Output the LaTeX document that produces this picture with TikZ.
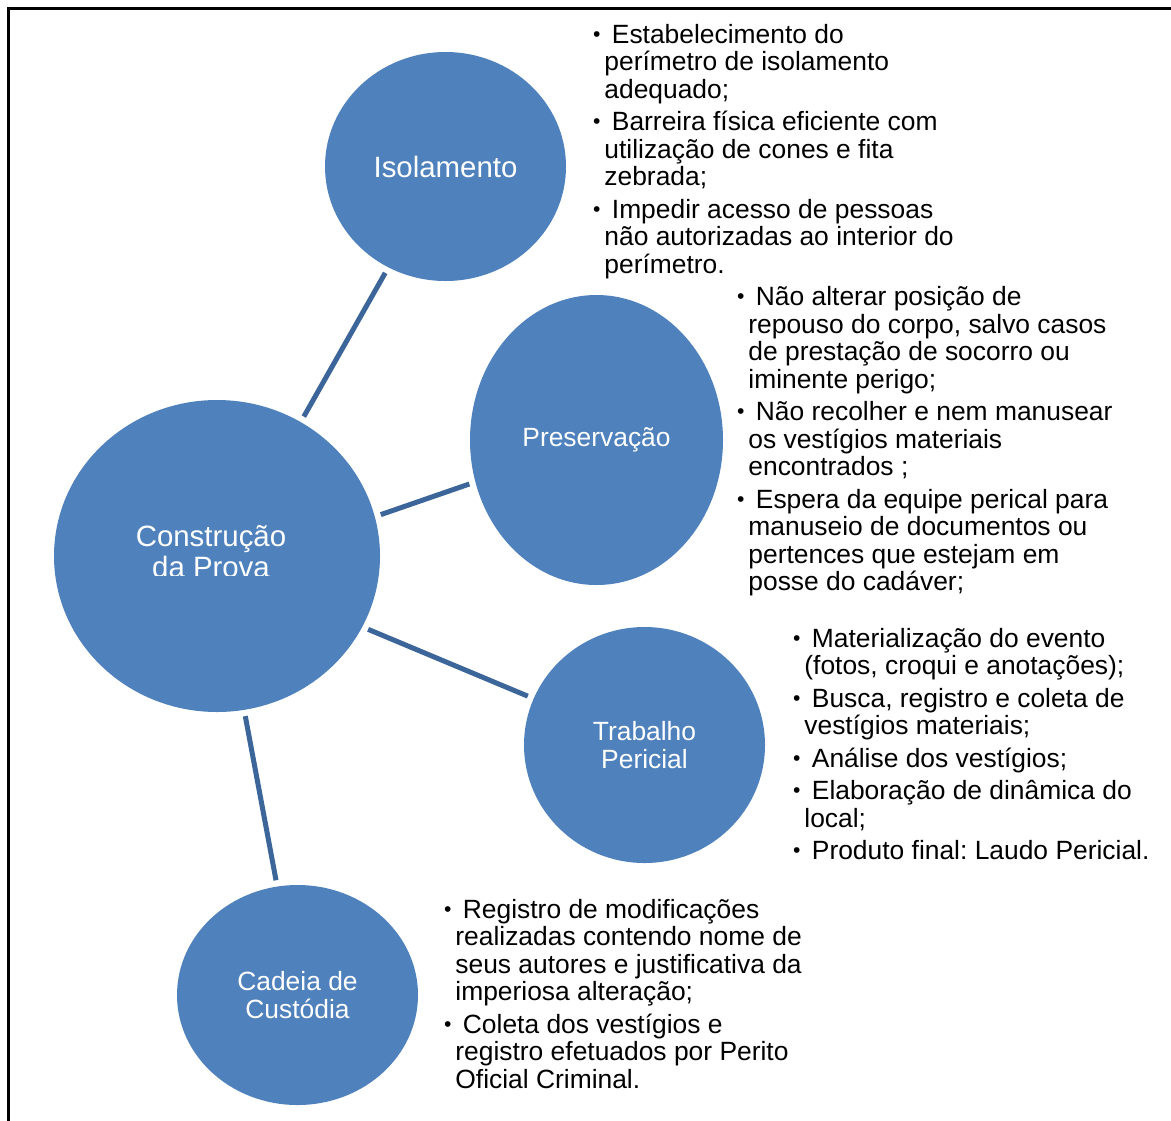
\documentclass[tikz,border=0pt]{standalone}
\usepackage{graphicx}
\usepackage{fontspec}
\setmainfont{Liberation Sans}
\usetikzlibrary{shapes.geometric}
\frenchspacing
\definecolor{azul}{RGB}{79,129,189}
\definecolor{linha}{RGB}{60,102,153}
\tikzstyle{bola} = [ellipse, fill=azul, inner sep=0mm, text=white, align=center, font=\fontsize{13.2}{14}\selectfont]
\tikzstyle{elo} = [draw=linha, line width=2.5pt, shorten <=3pt, shorten >=3pt]
\tikzstyle{lista} = [anchor=base west, inner sep=0mm]
\newcommand{\topico}{\hspace*{-3.75pt}\makebox[0pt]{\raisebox{0.9pt}{\scalebox{0.8}{\textbullet}}}\hspace*{7.5pt}}
\newcommand{\lista}[1]{\parbox[t]{300pt}{\raggedright\fontsize{13.2}{13.75}\selectfont\lineskiplimit=-\maxdimen #1}}

\begin{document}
\begin{tikzpicture}[x=0.5pt, y=-0.5pt]
                \clip (0,0) rectangle (1171,1120);
                \draw[line width=1.5pt] (8.5,8.2) rectangle (1200,1150);

                \node[bola, minimum width=163pt, minimum height=156pt] (prova) at (217,556) {};
                \node[bola, minimum width=120.5pt, minimum height=114.5pt, font=\fontsize{14.7}{15}\selectfont] (iso) at (445.5,166.5) {Isolamento};
                \node[bola, minimum width=126.5pt, minimum height=145pt] (pres) at (596.5,440) {Preservação};
                \node[bola, minimum width=120.5pt, minimum height=118pt] (trab) at (644.5,745) {Trabalho\\Pericial};
                \node[bola, minimum width=120.5pt, minimum height=110pt] (cad) at (297.5,995) {Cadeia de\\Custódia};

                % texto cortado na base, como no original
                \begin{scope}
                    \clip (54,400) rectangle (380,575.5);
                    \node[anchor=base, inner sep=0mm, text=white] (tProva) at (211,546.7) {\parbox[t]{160pt}{\centering\fontsize{14.7}{15.5}\selectfont Construção\\da Prova}};
                \end{scope}

                \foreach \a/\alvo in {58.6/iso, 14.2/pres, -26.6/trab, -80.5/cad}
                    \draw[elo] (prova.\a) -- (\alvo);

                \node[lista] (tIso) at (604,43.2) {\lista{%
                    \topico Estabelecimento do\\
                    perímetro de isolamento\\
                    adequado;\\[2.5pt]
                    \topico Barreira física eficiente com\\
                    utilização de cones e fita\\
                    zebrada;\\[2.5pt]
                    \topico Impedir acesso de pessoas\\
                    não autorizadas ao interior do\\
                    perímetro.}};
                \node[lista] (tPres) at (748,305.5) {\lista{%
                    \topico Não alterar posição de\\
                    repouso do corpo, salvo casos\\
                    de prestação de socorro ou\\
                    iminente perigo;\\[2.5pt]
                    \topico Não recolher e nem manusear\\
                    os vestígios materiais\\
                    encontrados ;\\[2.5pt]
                    \topico Espera da equipe perical para\\
                    manuseio de documentos ou\\
                    pertences que estejam em\\
                    posse do cadáver;}};
                \node[lista] (tTrab) at (804,647) {\lista{%
                    \topico Materialização do evento\\
                    (fotos, croqui e anotações);\\[2.5pt]
                    \topico Busca, registro e coleta de\\
                    vestígios materiais;\\[2.5pt]
                    \topico Análise dos vestígios;\\[2.5pt]
                    \topico Elaboração de dinâmica do\\
                    local;\\[2.5pt]
                    \topico Produto final: Laudo Pericial.}};
                \node[lista] (tCad) at (455,918.2) {\lista{%
                    \topico Registro de modificações\\
                    realizadas contendo nome de\\
                    seus autores e justificativa da\\
                    imperiosa alteração;\\[2.5pt]
                    \topico Coleta dos vestígios e\\
                    registro efetuados por Perito\\
                    Oficial Criminal.}};
            \end{tikzpicture}
\end{document}
